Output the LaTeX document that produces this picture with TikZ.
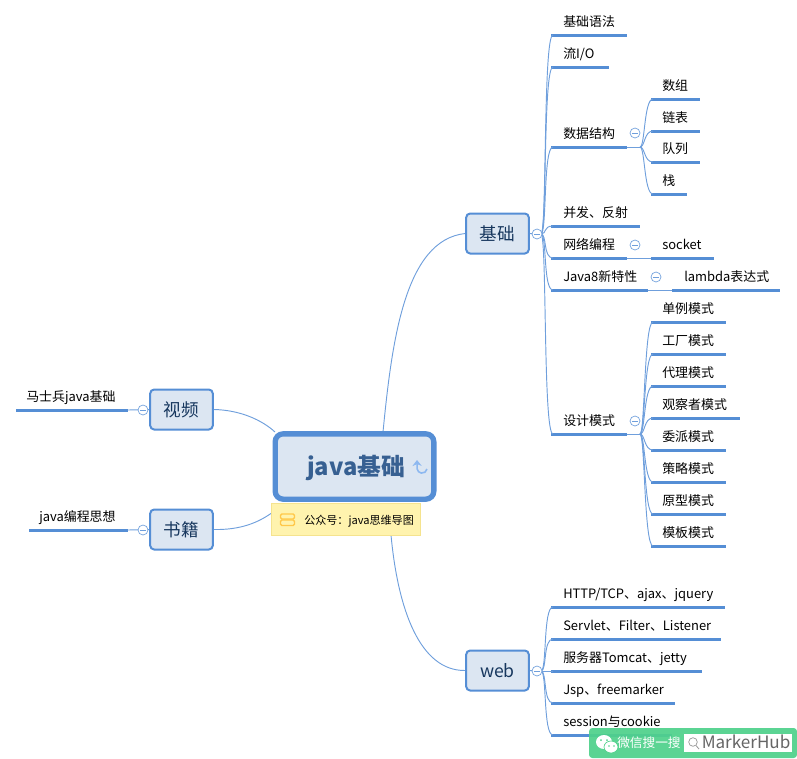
\documentclass[tikz,border=0pt]{standalone}
\usepackage{fontspec}
\setmainfont{Noto Sans CJK SC}
\usetikzlibrary{arrows.meta}
\definecolor{lineblue}{HTML}{558ED5}
\definecolor{thinblue}{HTML}{6F9FDC}
\definecolor{boxfill}{HTML}{DCE6F2}
\definecolor{topictext}{HTML}{17375E}
\definecolor{roottext}{HTML}{376092}
\definecolor{notefill}{HTML}{FFF3AE}
\definecolor{noteedge}{HTML}{F5E38E}
\definecolor{noteicon}{HTML}{FFC84A}
\definecolor{iconblue}{HTML}{8DB8F0}
\definecolor{wmgreen}{HTML}{4FD18B}
\definecolor{wmgray}{HTML}{666666}
\tikzset{
  leafline/.style={draw=lineblue,line width=2.25pt},
  conn/.style={draw=thinblue,line width=0.7pt},
  leaftext/.style={anchor=mid west,inner sep=0pt,font=\fontsize{9.7pt}{11pt}\selectfont,text=black},
  topicbox/.style={draw=lineblue,fill=boxfill,line width=1.5pt,rounded corners=3pt,minimum width=47pt,minimum height=30pt,inner sep=0pt,text=topictext,font=\fontsize{13.2pt}{15pt}\selectfont},
  foldmark/.style={circle,draw=thinblue,fill=white,line width=0.5pt,minimum size=7.5pt,inner sep=0pt},
}
\newcommand{\leaf}[6]{%
  \coordinate (#1-l) at (#2,#4);
  \coordinate (#1-r) at (#3,#4);
  \draw[leafline] (#1-l) -- (#1-r);
  \node[leaftext] (#1) at (#5,#4-12) {#6};
}
\newcommand{\trunk}[2]{% from start coordinate to leaf
  \draw[conn] (#1) .. controls ([xshift=4.5pt]#1) and ([xshift=-6pt]#2-l) .. ([xshift=1.5pt]#2-l);
}
\newcommand{\fork}[2]{%
  \draw[conn] (#1) .. controls ([xshift=3.75pt]#1) and ([xshift=-5.25pt]#2-l) .. ([xshift=1.5pt]#2-l);
}
\newcommand{\fold}[3]{%
  \node[foldmark] (#1) at (#2,#3) {};
  \draw[draw=thinblue,line width=0.5pt] ([xshift=-2pt]#1.center) -- ([xshift=2pt]#1.center);
}
\begin{document}
\begin{tikzpicture}[x=0.75pt,y=-0.75pt]
\useasboundingbox (0,0) rectangle (797,758);
% anchors for main curves
\coordinate (rootT) at (383,432);
\coordinate (rootB) at (391,535);
\coordinate (rootL1) at (275,432);
\coordinate (rootL2) at (273,512);
\coordinate (jcR) at (541,234);
\coordinate (webR) at (541,671);
% nodes
\node[topicbox] (jc) at (497.5,233.5) {基础};
\node[topicbox] (web) at (497.5,670.5) {web};
\node[topicbox] (vid) at (181.5,409.5) {视频};
\node[topicbox] (book) at (181.5,529.5) {书籍};
% main curves
\draw[conn] (rootT) .. controls (392,340) and (405,240) .. (jc.west);
\draw[conn] (rootB) .. controls (398,610) and (420,671) .. (web.west);
\draw[conn] (vid.east) .. controls (240,410) and (262,420) .. (rootL1);
\draw[conn] (book.east) .. controls (240,530) and (258,523) .. (rootL2);
\draw[conn] (jc.east) -- (jcR);
\draw[conn] (web.east) -- (webR);
% leaves
\leaf{a1}{551}{627}{35}{563}{基础语法}
\leaf{a2}{551}{609}{67}{563}{流I/O}
\leaf{a3}{551}{627}{147}{563}{数据结构}
\leaf{b1}{651}{700}{99}{662}{数组}
\leaf{b2}{651}{700}{131}{662}{链表}
\leaf{b3}{651}{700}{162}{662}{队列}
\leaf{b4}{651}{687}{194}{662}{栈}
\leaf{a4}{551}{640}{226}{563}{并发、反射}
\leaf{a5}{551}{627}{258}{563}{网络编程}
\leaf{c1}{651}{714}{258}{662}{socket}
\leaf{a6}{551}{648}{290}{563}{Java8新特性}
\leaf{d1}{672}{780}{290}{684}{lambda表达式}
\leaf{a7}{551}{627}{434}{563}{设计模式}
\leaf{e1}{651}{726}{322}{662}{单例模式}
\leaf{e2}{651}{726}{354}{662}{工厂模式}
\leaf{e3}{651}{726}{386}{662}{代理模式}
\leaf{e4}{651}{740}{418}{662}{观察者模式}
\leaf{e5}{651}{726}{450}{662}{委派模式}
\leaf{e6}{651}{726}{482}{662}{策略模式}
\leaf{e7}{651}{726}{514}{662}{原型模式}
\leaf{e8}{651}{726}{546}{662}{模板模式}
\leaf{w1}{551}{725}{607}{563}{HTTP/TCP、ajax、jquery}
\leaf{w2}{551}{721}{639}{563}{Servlet、Filter、Listener}
\leaf{w3}{551}{702}{671}{563}{服务器Tomcat、jetty}
\leaf{w4}{551}{675}{703}{563}{Jsp、freemarker}
\leaf{w5}{551}{672}{735}{563}{session与cookie}
\leaf{v1}{16}{128}{410}{26}{马士兵java基础}
\leaf{k1}{29}{128}{530}{39}{java编程思想}
% trunks
\foreach \k in {a1,a2,a3,a4,a5,a6,a7}{\trunk{jcR}{\k}}
\foreach \k in {w1,w2,w3,w4,w5}{\trunk{webR}{\k}}
% forks
\coordinate (forkB) at (640,147);
\draw[conn] (a3-r) -- (forkB);
\foreach \k in {b1,b2,b3,b4}{\fork{forkB}{\k}}
\coordinate (forkE) at (640,434);
\draw[conn] (a7-r) -- (forkE);
\foreach \k in {e1,e2,e3,e4,e5,e6,e7,e8}{\fork{forkE}{\k}}
\draw[conn] (a5-r) -- (c1-l);
\draw[conn] (a6-r) -- (d1-l);
\draw[conn] (v1-r) -- (vid.west);
\draw[conn] (k1-r) -- (book.west);
% fold marks
\fold{f1}{537}{234}
\fold{f2}{537}{671}
\fold{f3}{143}{410}
\fold{f4}{143}{530}
\fold{f5}{635}{133}
\fold{f6}{635}{245}
\fold{f7}{656}{277}
\fold{f8}{635}{421}
% central topic
\node[draw=lineblue,fill=boxfill,line width=4pt,rounded corners=6pt,minimum width=119pt,minimum height=49pt,inner sep=0pt] (root) at (354.5,466.5) {};
\node[inner sep=0pt,text=roottext,font=\fontsize{17.8pt}{20pt}\selectfont\bfseries] (roottitle) at (356,467.5) {java基础};
% refresh icon
\draw[draw=iconblue,line width=1.2pt,-{Stealth[length=4.5pt,width=7pt]}] (427,469) arc[start angle=-10,end angle=-170,radius=3.75pt] -- (417,460);
% note
\node[draw=noteedge,fill=notefill,line width=0.5pt,minimum width=112pt,minimum height=24pt,inner sep=0pt] (note) at (346,519) {};
\draw[draw=noteicon,line width=1pt,rounded corners=1pt] (280.5,514) rectangle (294.5,519);
\draw[draw=noteicon,line width=1pt,rounded corners=1pt] (280.5,520) rectangle (294.5,525.5);
\node[inner sep=0pt,anchor=mid west,font=\fontsize{8.3pt}{10pt}\selectfont,text=black] (notetext) at (304,520.5) {公众号：java思维导图};
% watermark
\fill[wmgreen,opacity=0.93,rounded corners=2.5pt] (589,728) rectangle (797,758);
\fill[white] (684,734) rectangle (792,752);
\fill[white] (604,742) ellipse[x radius=8,y radius=7];
\draw[wmgreen,fill=white,line width=0.5pt] (611,747) ellipse[x radius=7,y radius=6];
\fill[wmgreen] (601,740) circle(1) (607,740) circle(1) (609,746) circle(0.9) (614,746) circle(0.9);
\node[inner sep=0pt,anchor=mid west,text=white,font=\fontsize{9.5pt}{11pt}\selectfont] (wmtext) at (617,743.5) {微信搜一搜};
\draw[draw=wmgray!70,line width=0.5pt] (693,742) circle(4.3);
\draw[draw=wmgray!70,line width=0.6pt] (696,745.5) -- (699,749);
\node[inner sep=0pt,anchor=mid west,text=wmgray,font=\fontsize{12.8pt}{14pt}\selectfont] (wmname) at (701.5,744.5) {MarkerHub};
\end{tikzpicture}
\end{document}
